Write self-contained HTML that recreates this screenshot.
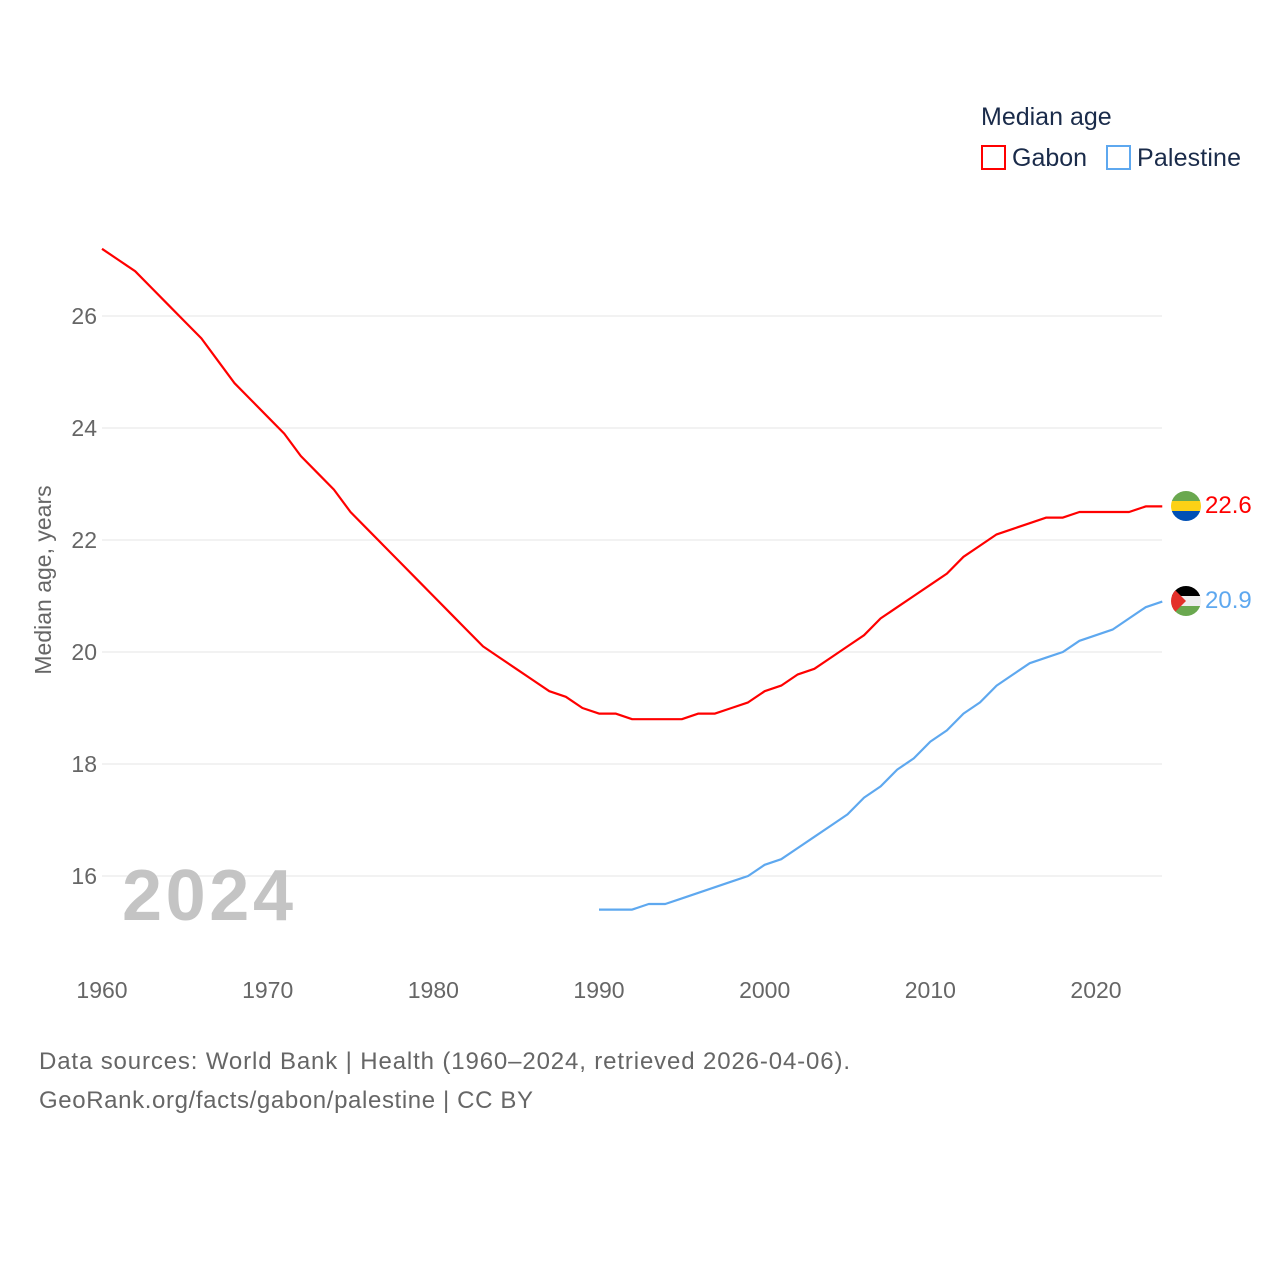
<!DOCTYPE html>
<html><head><meta charset="utf-8"><style>
body{margin:0;background:#fff;font-family:"Liberation Sans",sans-serif}
svg text{font-family:"Liberation Sans",sans-serif}
</style></head><body>
<svg id="chart" width="1280" height="1280" viewBox="0 0 1280 1280">
<defs>
<clipPath id="c1"><circle cx="1186" cy="506" r="15"/></clipPath>
<clipPath id="c2"><circle cx="1186" cy="601" r="15"/></clipPath>
</defs>
<g id="grid"></g>
<g id="series"></g>
<text x="981" y="125" font-size="25" fill="#1a2b4a">Median age</text>
<rect x="982" y="146" width="23" height="23" fill="none" stroke="#ff0000" stroke-width="2"/>
<text x="1012" y="166" font-size="25" fill="#1a2b4a">Gabon</text>
<rect x="1107" y="146" width="23" height="23" fill="none" stroke="#5ea8ef" stroke-width="2"/>
<text x="1137" y="166" font-size="25" fill="#1a2b4a" textLength="104">Palestine</text>
<text transform="translate(51,580) rotate(-90)" text-anchor="middle" font-size="23" fill="#666">Median age, years</text>
<text x="122" y="920" font-size="72" font-weight="bold" fill="#c4c4c4" textLength="171">2024</text>
<g clip-path="url(#c1)">
<rect x="1171" y="491" width="30" height="10" fill="#6aa84f"/><rect x="1171" y="501" width="30" height="10" fill="#fcd116"/><rect x="1171" y="511" width="30" height="10" fill="#0050b5"/></g>
<g clip-path="url(#c2)">
<rect x="1171" y="586" width="30" height="10" fill="#000"/><rect x="1171" y="596" width="30" height="10" fill="#eee"/><rect x="1171" y="606" width="30" height="10" fill="#6aa84f"/><polygon points="1171,586 1186,601 1171,616" fill="#e4312b"/></g>
<text x="1205" y="513" font-size="24" fill="#ff0000">22.6</text>
<text x="1205" y="608" font-size="24" fill="#5ea8ef">20.9</text>
<text x="39" y="1069" font-size="24" fill="#666" textLength="811">Data sources: World Bank | Health (1960–2024, retrieved 2026-04-06).</text>
<text x="39" y="1108" font-size="24" fill="#666" textLength="494">GeoRank.org/facts/gabon/palestine | CC BY</text>
</svg>
<script>
const yTicks=[16,18,20,22,24,26];
const xTicks=[1960,1970,1980,1990,2000,2010,2020];
const gabonYears=[];for(let y=1960;y<=2024;y++)gabonYears.push(y);
const gabonValues=[27.2,27.0,26.8,26.5,26.2,25.9,25.6,25.2,24.8,24.5,24.2,23.9,23.5,23.2,22.9,22.5,22.2,21.9,21.6,21.3,21.0,20.7,20.4,20.1,19.9,19.7,19.5,19.3,19.2,19.0,18.9,18.9,18.8,18.8,18.8,18.8,18.9,18.9,19.0,19.1,19.3,19.4,19.6,19.7,19.9,20.1,20.3,20.6,20.8,21.0,21.2,21.4,21.7,21.9,22.1,22.2,22.3,22.4,22.4,22.5,22.5,22.5,22.5,22.6,22.6];
const palYears=[];for(let y=1990;y<=2024;y++)palYears.push(y);
const palValues=[15.4,15.4,15.4,15.5,15.5,15.6,15.7,15.8,15.9,16.0,16.2,16.3,16.5,16.7,16.9,17.1,17.4,17.6,17.9,18.1,18.4,18.6,18.9,19.1,19.4,19.6,19.8,19.9,20.0,20.2,20.3,20.4,20.6,20.8,20.9];
const X=v=>102+(v-1960)*(994/60);
const Y=v=>876-(v-16)*56;
const NS="http://www.w3.org/2000/svg";
const grid=document.getElementById('grid'),ser=document.getElementById('series');
yTicks.forEach(t=>{
 const l=document.createElementNS(NS,'line');
 l.setAttribute('x1',102);l.setAttribute('x2',1162);l.setAttribute('y1',Y(t));l.setAttribute('y2',Y(t));
 l.setAttribute('stroke','#e6e6e6');l.setAttribute('stroke-width','1');
 
 
 grid.appendChild(l);
 const tx=document.createElementNS(NS,'text');
 tx.setAttribute('x',97);tx.setAttribute('y',Y(t)+8);tx.setAttribute('text-anchor','end');
 tx.setAttribute('font-size','23');tx.setAttribute('fill','#666');tx.textContent=t;
 
 
 grid.appendChild(tx);
});
xTicks.forEach(t=>{
 const tx=document.createElementNS(NS,'text');
 tx.setAttribute('x',X(t));tx.setAttribute('y',998);tx.setAttribute('text-anchor','middle');
 tx.setAttribute('font-size','23');tx.setAttribute('fill','#666');tx.textContent=t;
 
 
 grid.appendChild(tx);
});
function line(xs,vs,color,name){
 const p=document.createElementNS(NS,'polyline');
 p.setAttribute('points',xs.map((x,i)=>X(x)+','+Y(vs[i])).join(' '));
 p.setAttribute('fill','none');p.setAttribute('stroke',color);p.setAttribute('stroke-width','2.2');
 p.setAttribute('stroke-linejoin','round');
 
 
 ser.appendChild(p);
}
line(gabonYears,gabonValues,'#ff0000','gabon-line');
line(palYears,palValues,'#5ea8ef','palestine-line');
</script>
</body></html>
